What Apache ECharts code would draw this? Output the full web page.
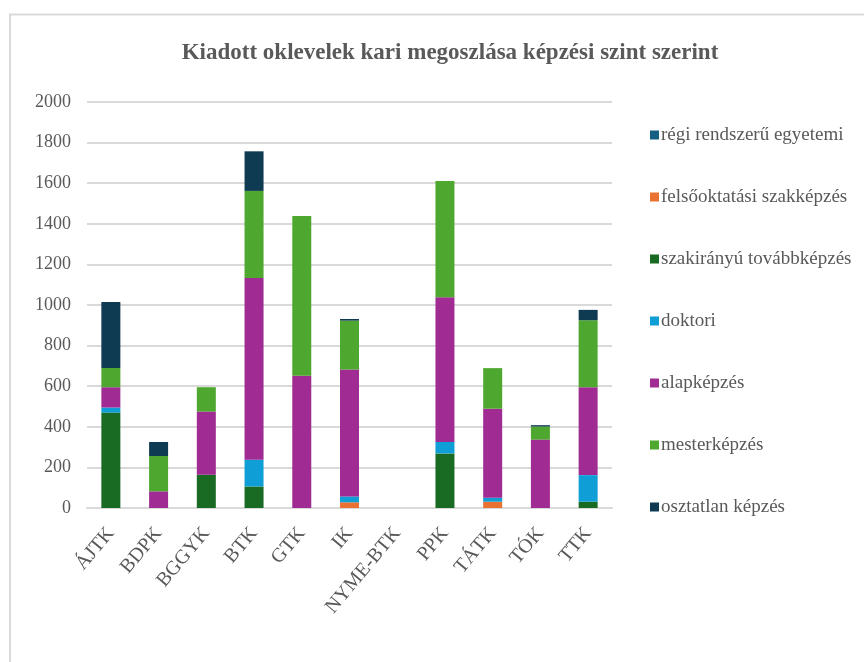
<!DOCTYPE html>
<html>
<head>
<meta charset="utf-8">
<script src="https://cdn.jsdelivr.net/npm/echarts@6/dist/echarts.min.js"></script>
<style>
html,body{margin:0;padding:0;background:#fff;}
#chart{width:864px;height:662px;}
</style>
</head>
<body>
<div id="chart"></div>
<script>
// karok
var categories = ['ÁJTK','BDPK','BGGYK','BTK','GTK','IK','NYME-BTK','PPK','TÁTK','TÓK','TTK'];
// képzési szintek (alulról felfelé)
var regi = [0,0,0,0,0,0,0,0,0,0,0];
var felso = [0,0,0,0,0,28,0,0,31,0,0];
var szak = [470,0,164,106,0,0,0,269,0,0,31];
var doktori = [25,0,0,132,0,29,0,56,20,0,131];
var alap = [100,82,311,895,651,625,0,713,438,337,433];
var mester = [95,174,120,429,787,241,0,573,200,64,330];
var osztatlan = [325,69,0,195,0,8,0,0,0,7,51];
var yTicks = {min:0, max:2000, interval:200};

var textColor = '#595959';
var font = '"Liberation Serif","Times New Roman",serif';

function mkSeries(name, data, color){
	return {
		name: name,
		type: 'bar',
		stack: 'total',
		barWidth: 19,
		itemStyle: {color: color},
		data: data
	};
}

var chart = echarts.init(document.getElementById('chart'));
chart.setOption({
	animation: false,
	backgroundColor: '#fff',
	title: {
		text: 'Kiadott oklevelek kari megoszlása képzési szint szerint',
		left: 445,
		top: 37,
		textAlign: 'center',
		textStyle: {fontFamily: font, fontSize: 23, fontWeight: 'bold', color: textColor}
	},
	graphic: [{
		type: 'polyline',
		shape: {points: [[10,662],[10,14.5],[864,14.5]]},
		style: {stroke: '#d9d9d9', lineWidth: 2, fill: null}
	}],
	legend: {
		orient: 'vertical',
		left: 645,
		top: 119,
		itemWidth: 9,
		itemHeight: 9,
		itemGap: 40,
		icon: 'rect',
		data: ['régi rendszerű egyetemi','felsőoktatási szakképzés','szakirányú továbbképzés','doktori','alapképzés','mesterképzés','osztatlan képzés'],
		textStyle: {fontFamily: font, fontSize: 19, color: textColor, lineHeight: 22, padding: [0,0,0,-3]}
	},
	grid: {left: 87, right: 252, top: 102, bottom: 154},
	xAxis: {
		type: 'category',
		data: categories,
		axisTick: {show: false},
		axisLine: {lineStyle: {color: '#d9d9d9', width: 2}},
		axisLabel: {rotate: 50, margin: 22, fontFamily: font, fontSize: 20, color: textColor}
	},
	yAxis: {
		type: 'value',
		min: yTicks.min,
		max: yTicks.max,
		interval: yTicks.interval,
		axisLine: {show: false},
		axisTick: {show: false},
		splitLine: {lineStyle: {color: '#d9d9d9', width: 2}},
		axisLabel: {margin: 16, fontFamily: font, fontSize: 18, color: textColor, formatter: function(v){ return String(v); }}
	},
	series: [
		mkSeries('régi rendszerű egyetemi', regi, '#156082'),
		mkSeries('felsőoktatási szakképzés', felso, '#e97132'),
		mkSeries('szakirányú továbbképzés', szak, '#196b24'),
		mkSeries('doktori', doktori, '#0f9ed5'),
		mkSeries('alapképzés', alap, '#a02b93'),
		mkSeries('mesterképzés', mester, '#4ea72e'),
		mkSeries('osztatlan képzés', osztatlan, '#0e3a52')
	]
});
</script>
</body>
</html>
